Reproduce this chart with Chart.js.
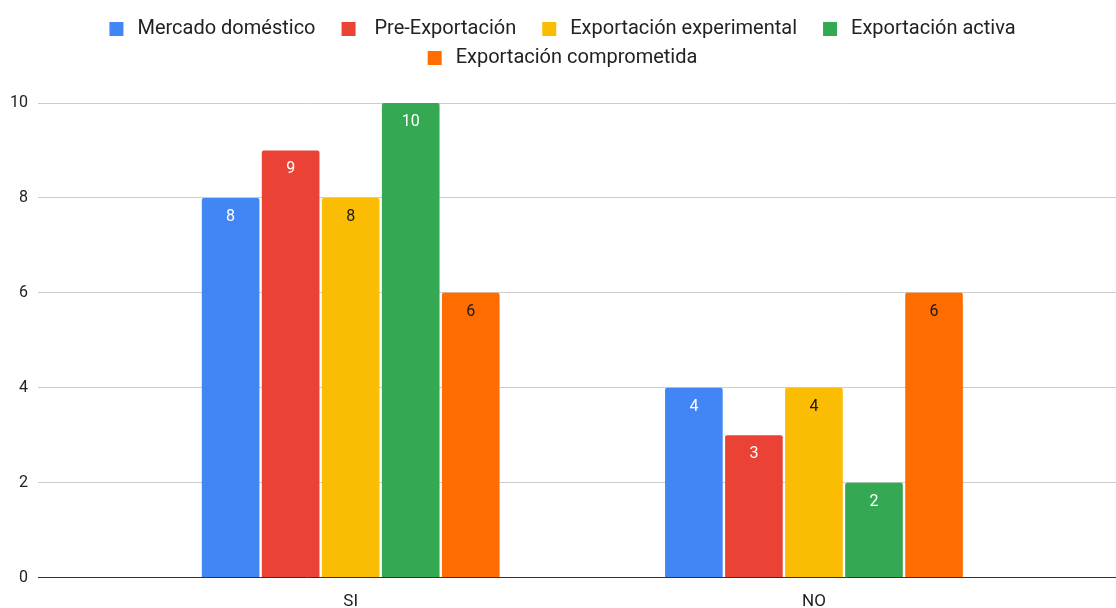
<!DOCTYPE html>
<html lang="es">
<head>
<meta charset="utf-8">
<title>Exportación</title>
<script src="https://cdn.jsdelivr.net/npm/chart.js@4/dist/chart.umd.min.js"></script>
<style>
  html, body { margin: 0; padding: 0; background: #fff; }
  #grafico { display: block; }
</style>
</head>
<body>
<canvas id="grafico" width="1116" height="608"></canvas>
<script>
// Datos
const categorias = ['SI', 'NO'];
const mercadoDomestico = [8, 4];
const preExportacion = [9, 3];
const exportacionExperimental = [8, 4];
const exportacionActiva = [10, 2];
const exportacionComprometida = [6, 6];
const ticksY = [0, 2, 4, 6, 8, 10];

const series = [
  { label: 'Mercado doméstico', data: mercadoDomestico, color: '#4285F4', texto: '#ffffff' },
  { label: ' Pre-Exportación', data: preExportacion, color: '#EA4335', texto: '#ffffff' },
  { label: 'Exportación experimental', data: exportacionExperimental, color: '#FBBC04', texto: '#1a1a1a' },
  { label: 'Exportación activa', data: exportacionActiva, color: '#34A853', texto: '#ffffff' },
  { label: 'Exportación comprometida', data: exportacionComprometida, color: '#FF6D01', texto: '#1a1a1a' }
];

const fuente = 'Roboto, "Noto Sans", Arial, sans-serif';

// Cuadrito de la leyenda con espacio a la izquierda
function cuadroLeyenda(color) {
  const c = document.createElement('canvas');
  c.width = 35;
  c.height = 14;
  const g = c.getContext('2d');
  g.fillStyle = color;
  g.fillRect(17, 0, 14, 14);
  return c;
}

// Etiquetas de valor dentro de cada barra
const etiquetasValor = {
  id: 'etiquetasValor',
  afterDatasetsDraw(chart) {
    const ctx = chart.ctx;
    ctx.save();
    ctx.font = '16px ' + fuente;
    ctx.textAlign = 'center';
    ctx.textBaseline = 'middle';
    chart.data.datasets.forEach((ds, i) => {
      const meta = chart.getDatasetMeta(i);
      meta.data.forEach((bar, j) => {
        ctx.fillStyle = series[i].texto;
        ctx.fillText(String(ds.data[j].y), bar.x, bar.y + 19);
      });
    });
    ctx.restore();
  }
};

// Espacio extra debajo de la leyenda y pequeño corrimiento a la izquierda
const espacioLeyenda = {
  id: 'espacioLeyenda',
  beforeInit(chart) {
    const fitOriginal = chart.legend.fit;
    chart.legend.fit = function () {
      fitOriginal.bind(chart.legend)();
      this.height += 25;
    };
  },
  afterLayout(chart) {
    chart.legend.left -= 4;
    chart.legend.right -= 4;
  }
};

const ctx = document.getElementById('grafico').getContext('2d');

new Chart(ctx, {
  type: 'bar',
  data: {
    datasets: series.map(s => ({
      label: s.label,
      data: categorias.map((c, i) => ({ x: i, y: s.data[i] })),
      backgroundColor: s.color,
      borderWidth: 0,
      borderRadius: 2,
      categoryPercentage: 0.648,
      barPercentage: 0.96
    }))
  },
  options: {
    responsive: false,
    animation: false,
    layout: { padding: { top: 10, left: 0, right: 0, bottom: -18 } },
    plugins: {
      tooltip: { enabled: false },
      legend: {
        position: 'top',
        labels: {
          usePointStyle: true,
          pointStyleWidth: 35,
          padding: 9,
          color: '#222',
          font: { family: fuente, size: 20 },
          generateLabels(chart) {
            const items = Chart.defaults.plugins.legend.labels.generateLabels(chart);
            items.forEach((it, i) => { it.pointStyle = cuadroLeyenda(series[i].color); });
            return items;
          }
        }
      }
    },
    scales: {
      x: {
        type: 'linear',
        offset: false,
        min: -0.675,
        max: 1.652,
        grid: { display: false, drawTicks: false },
        border: { display: false },
        afterBuildTicks(scale) {
          scale.ticks = categorias.map((c, i) => ({ value: i }));
        },
        ticks: {
          padding: 14,
          color: '#222',
          font: { family: fuente, size: 17 },
          callback: v => categorias[v]
        }
      },
      y: {
        min: 0,
        max: 10,
        afterBuildTicks(scale) {
          scale.ticks = ticksY.map(v => ({ value: v }));
        },
        grid: {
          drawTicks: false,
          color: c => (c.tick && c.tick.value === 0 ? '#333' : '#cccccc'),
          lineWidth: 1
        },
        border: { display: false },
        ticks: {
          padding: 10,
          color: '#222',
          font: { family: fuente, size: 16 }
        }
      }
    }
  },
  plugins: [etiquetasValor, espacioLeyenda]
});
</script>
</body>
</html>
